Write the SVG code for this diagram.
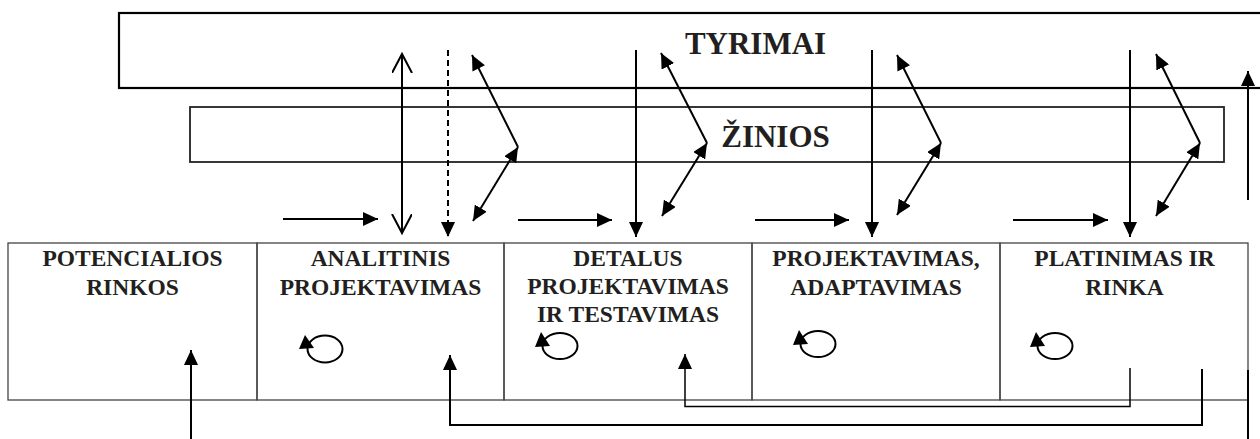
<svg xmlns="http://www.w3.org/2000/svg" width="1260" height="439" viewBox="0 0 1260 439">
<style>
.big{font-family:"Liberation Serif","Times New Roman",serif;font-weight:bold;font-size:31px;fill:#231f20;text-anchor:middle}
.lbl{font-family:"Liberation Serif","Times New Roman",serif;font-weight:bold;font-size:23.5px;fill:#231f20;text-anchor:middle}
.ln{stroke:#000;stroke-width:2;fill:none}
.thin{stroke:#000;stroke-width:1.5;fill:none}
.cell{stroke:#444;stroke-width:1.3;fill:none}
</style>
<defs>
<marker id="ah" markerUnits="userSpaceOnUse" markerWidth="16" markerHeight="14" refX="15" refY="7" orient="auto-start-reverse" viewBox="0 0 16 14">
<path d="M0,0 L15,7 L0,14 z" fill="#000"/>
</marker>
<marker id="ov" markerUnits="userSpaceOnUse" markerWidth="22" markerHeight="22" refX="19" refY="10" orient="auto-start-reverse" viewBox="0 0 22 22">
<path d="M0,0 L19,10 L0,20" fill="none" stroke="#000" stroke-width="2"/>
</marker>
</defs>

<g id="tyrimai">
<rect x="119" y="13" width="1200" height="75" fill="none" stroke="#000" stroke-width="2.2"/>
<text class="big" x="755.5" y="54">TYRIMAI</text>
</g>
<g id="zinios">
<rect x="190" y="107" width="1034" height="55" fill="none" stroke="#222" stroke-width="1.8"/>
<text class="big" x="775.5" y="147">ŽINIOS</text>
</g>

<g id="potencialios">
<rect class="cell" x="8" y="243" width="249" height="157"/>
<text class="lbl" x="132.5" y="266">POTENCIALIOS</text>
<text class="lbl" x="132.5" y="295">RINKOS</text>
</g>
<g id="analitinis">
<rect class="cell" x="257" y="243" width="247" height="157"/>
<text class="lbl" x="380.5" y="266">ANALITINIS</text>
<text class="lbl" x="380.5" y="295">PROJEKTAVIMAS</text>
<ellipse class="ln" cx="325" cy="349" rx="17.5" ry="13.5"/>
<polygon points="305,335 299,349 314,348" fill="#000"/>
</g>
<g id="detalus">
<rect class="cell" x="504" y="243" width="248" height="157"/>
<text class="lbl" x="628" y="265.5">DETALUS</text>
<text class="lbl" x="628" y="294">PROJEKTAVIMAS</text>
<text class="lbl" x="628" y="322">IR TESTAVIMAS</text>
<ellipse class="ln" cx="560" cy="346" rx="17.5" ry="13"/>
<polygon points="541,332 535,347 550,346" fill="#000"/>
</g>
<g id="projektavimas">
<rect class="cell" x="752" y="243" width="248" height="157"/>
<text class="lbl" x="876" y="266">PROJEKTAVIMAS,</text>
<text class="lbl" x="876" y="295">ADAPTAVIMAS</text>
<ellipse class="ln" cx="818" cy="344" rx="17.5" ry="13"/>
<polygon points="799,330 793,345 808,344" fill="#000"/>
</g>
<g id="platinimas">
<rect class="cell" x="1000" y="243" width="248" height="157"/>
<text class="lbl" x="1124.5" y="266">PLATINIMAS IR</text>
<text class="lbl" x="1124.5" y="295">RINKA</text>
<ellipse class="ln" cx="1055" cy="346" rx="17.5" ry="13"/>
<polygon points="1036,332 1030,347 1045,346" fill="#000"/>
</g>

<g id="connectors">
<!-- horizontal arrows into cells -->
<line class="ln" x1="283" y1="219" x2="378" y2="219" marker-end="url(#ah)"/>
<line class="ln" x1="518" y1="220" x2="612" y2="220" marker-end="url(#ah)"/>
<line class="ln" x1="755" y1="220" x2="849" y2="220" marker-end="url(#ah)"/>
<line class="ln" x1="1013" y1="220" x2="1108" y2="220" marker-end="url(#ah)"/>
<!-- double open arrow -->
<line class="ln" x1="402" y1="54" x2="402" y2="233" marker-start="url(#ov)" marker-end="url(#ov)"/>
<!-- dashed -->
<line class="ln" x1="448" y1="50" x2="448" y2="237" stroke-dasharray="6 4" marker-end="url(#ah)"/>
<!-- vertical down arrows -->
<line class="ln" x1="636" y1="50" x2="636" y2="237" marker-end="url(#ah)"/>
<line class="ln" x1="872" y1="50" x2="872" y2="237" marker-end="url(#ah)"/>
<line class="ln" x1="1130" y1="50" x2="1130" y2="237" marker-end="url(#ah)"/>
<!-- zigzag groups -->
<line class="ln" x1="518" y1="147" x2="472" y2="55" marker-end="url(#ah)"/>
<line class="ln" x1="473" y1="221" x2="518" y2="147" marker-start="url(#ah)" marker-end="url(#ah)"/>
<line class="ln" x1="707" y1="143" x2="661" y2="53" marker-end="url(#ah)"/>
<line class="ln" x1="662" y1="216" x2="707" y2="143" marker-start="url(#ah)" marker-end="url(#ah)"/>
<line class="ln" x1="941" y1="143" x2="897" y2="55" marker-end="url(#ah)"/>
<line class="ln" x1="897" y1="215" x2="941" y2="143" marker-start="url(#ah)" marker-end="url(#ah)"/>
<line class="ln" x1="1200" y1="143" x2="1156" y2="54" marker-end="url(#ah)"/>
<line class="ln" x1="1156" y1="216" x2="1200" y2="143" marker-start="url(#ah)" marker-end="url(#ah)"/>
<!-- right upward arrow -->
<line class="ln" x1="1248" y1="200" x2="1248" y2="71" marker-end="url(#ah)"/>
<!-- bottom feedback -->
<line class="ln" x1="191" y1="439" x2="191" y2="350" marker-end="url(#ah)"/>
<polyline class="ln" points="1202,369 1202,425 450,425 450,355" marker-end="url(#ah)"/>
<polyline class="thin" points="1130,368 1130,406.5 685,406.5 685,354" marker-end="url(#ah)"/>
<line class="ln" x1="1248" y1="370" x2="1248" y2="439"/>
</g>
</svg>
